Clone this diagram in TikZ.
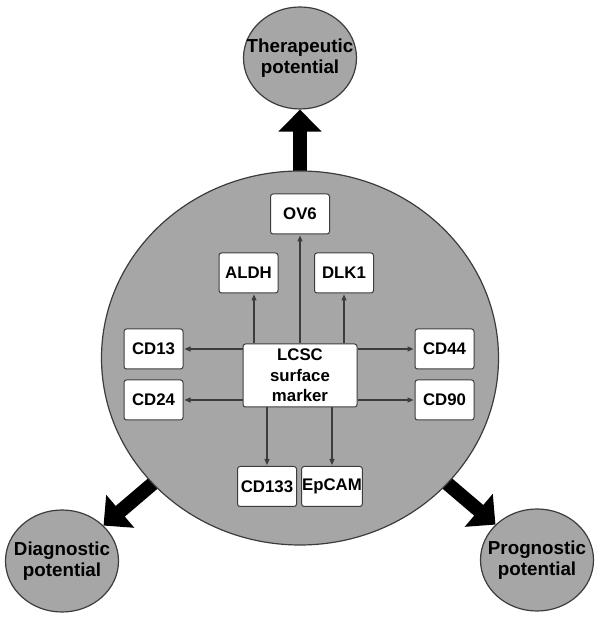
\documentclass[tikz,border=0pt]{standalone}
\usepackage{fontspec}
\setmainfont{Liberation Sans}
\usetikzlibrary{arrows.meta,shapes.geometric,positioning,backgrounds}
\definecolor{cellgray}{HTML}{A6A6A6}
\definecolor{edgegray}{HTML}{3C3C3C}
\tikzset{
	blob/.style={ellipse, draw=edgegray, line width=1.2pt, fill=cellgray, inner sep=0pt},
	potential/.style={blob, minimum width=113pt, minimum height=102pt,
			label={[font=\fontsize{18.8}{21}\selectfont\bfseries, align=center]center:#1}},
	marker/.style={draw=edgegray, line width=1pt, fill=white, rounded corners=2.5pt,
			minimum width=59pt, minimum height=40pt, inner sep=0.5pt,
			font=\fontsize{16.8}{20.5}\selectfont\bfseries},
	link/.style={draw=edgegray, line width=1.1pt, shorten >=1pt, -{Triangle[length=6pt,width=5pt]}},
	bigarrow/.style={line width=14pt, shorten <=-12pt, -{Triangle[length=22pt,width=42pt]}}
}

\begin{document}
\begin{tikzpicture}[x=1pt,y=1pt]
		\useasboundingbox (0,0) rectangle (600,617);

		\node[blob, minimum width=397pt, minimum height=374pt] (cell) at (300,259) {};
		\node[potential={Therapeutic\\potential}] (thera) at (300,559) {};
		\node[potential={Diagnostic\\potential}] (diag) at (62,56) {};
		\node[potential={Prognostic\\potential}] (progn) at (537,57) {};

		\begin{pgfonlayer}{background}
			\draw[bigarrow] (cell) -- (thera);
			\draw[bigarrow] (cell) -- (diag);
			\draw[bigarrow] (cell) -- (progn);
		\end{pgfonlayer}

		\node[marker, minimum width=114pt, minimum height=63pt, align=center] (lcsc) at (300,241.5) {LCSC\\surface\\marker};
		\node[marker] (ov6) at (300,403) {OV6};
		\node[marker] (aldh) at (248.5,344) {ALDH};
		\node[marker] (dlk1) at (344,344) {DLK1};
		\node[marker] (cd13) at (153.5,268) {CD13};
		\node[marker] (cd24) at (153.5,217) {CD24};
		\node[marker] (cd44) at (444.5,268) {CD44};
		\node[marker] (cd90) at (444.5,217) {CD90};
		\node[marker] (cd133) at (267,130.5) {CD133};
		\node[marker] (epcam) at (332,130.5) {EpCAM};

		\draw[link] (lcsc) -- (ov6);
		\draw[link] ([xshift=5.5pt]aldh.south |- lcsc.north) -- ([xshift=5.5pt]aldh.south);
		\draw[link] (lcsc.north -| dlk1.south) -- (dlk1.south);
		\draw[link] (lcsc.west |- cd13) -- (cd13.east);
		\draw[link] (lcsc.west |- cd24) -- (cd24.east);
		\draw[link] (lcsc.east |- cd44) -- (cd44.west);
		\draw[link] (lcsc.east |- cd90) -- (cd90.west);
		\draw[link] (lcsc.south -| cd133.north) -- (cd133.north);
		\draw[link] (lcsc.south -| epcam.north) -- (epcam.north);

	\end{tikzpicture}
\end{document}
